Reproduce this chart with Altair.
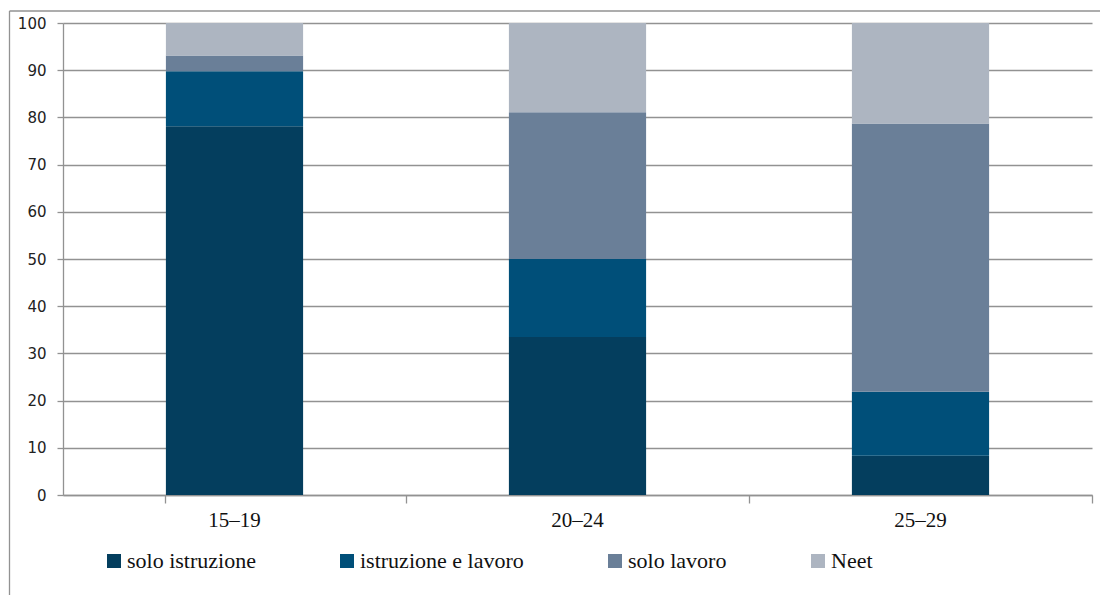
import altair as alt
import pandas as pd

groups = ["15–19", "20–24", "25–29"]
categories = ["solo istruzione", "istruzione e lavoro", "solo lavoro", "Neet"]
solo_istruzione = [78.1, 33.5, 8.3]
istruzione_lavoro = [11.7, 16.5, 13.6]
solo_lavoro = [3.3, 31.1, 56.8]
neet = [6.9, 18.9, 21.3]
colors = ["#043e5e", "#004f79", "#6a7f98", "#adb5c1"]
y_ticks = list(range(0, 101, 10))

series = [solo_istruzione, istruzione_lavoro, solo_lavoro, neet]
rows = []
for idx, (cat, vals) in enumerate(zip(categories, series)):
    for g, v in zip(groups, vals):
        rows.append({"gruppo": g, "condizione": cat, "valore": v, "ordine": idx})
df = pd.DataFrame(rows)

GRAY = "#929292"

bars = alt.Chart(df).mark_bar().encode(
    x=alt.X(
        "gruppo:N",
        sort=groups,
        scale=alt.Scale(paddingInner=0.6, paddingOuter=0.3),
        axis=alt.Axis(
            title=None, labelAngle=0, bandPosition=1.75, tickExtra=True,
            grid=False, tickSize=8, labelPadding=6, labelFont="Liberation Serif",
            labelFontSize=21, labelColor="#111111",
        ),
    ),
    y=alt.Y(
        "valore:Q",
        stack="zero",
        scale=alt.Scale(domain=[0, 100], nice=False),
        axis=alt.Axis(
            title=None, values=y_ticks, tickSize=6, labelPadding=11,
            labelFont="DejaVu Sans", labelFontSize=15, labelColor="#222222",
            grid=True,
        ),
    ),
    color=alt.Color(
        "condizione:N",
        scale=alt.Scale(domain=categories, range=colors),
        legend=alt.Legend(
            title=None, orient="none", legendX=40, legendY=527,
            direction="horizontal", columns=4, columnPadding=80,
            symbolType="square", symbolSize=196, symbolStrokeWidth=0,
            labelFont="Liberation Serif", labelFontSize=22, labelOffset=2,
            labelColor="#111111", padding=0, labelLimit=0,
        ),
    ),
    order=alt.Order("ordine:Q", sort="ascending"),
)

frame = alt.Data(values=[{"k": 1}])
left_line = alt.Chart(frame).mark_rule(color=GRAY, strokeWidth=1.3).encode(
    x=alt.value(-53.5), y=alt.value(-12), y2=alt.value(620)
)
top_line = alt.Chart(frame).mark_rule(color=GRAY, strokeWidth=1.3).encode(
    x=alt.value(-53.5), x2=alt.value(1060), y=alt.value(-12)
)

chart = alt.layer(bars, left_line, top_line).properties(
    width=1029,
    height=472,
    padding={"left": 55, "top": 15, "right": 8, "bottom": 100},
    autosize=alt.AutoSizeParams(type="none"),
).configure_view(stroke=None).configure_axis(
    domainColor=GRAY, tickColor=GRAY, gridColor=GRAY,
    domainWidth=1.3, tickWidth=1.3, gridWidth=1.3,
).configure_legend(
    labelFont="Liberation Serif", labelFontSize=22, labelLimit=0,
)

chart.save("out.html", embed_options={"renderer": "svg", "actions": False})
